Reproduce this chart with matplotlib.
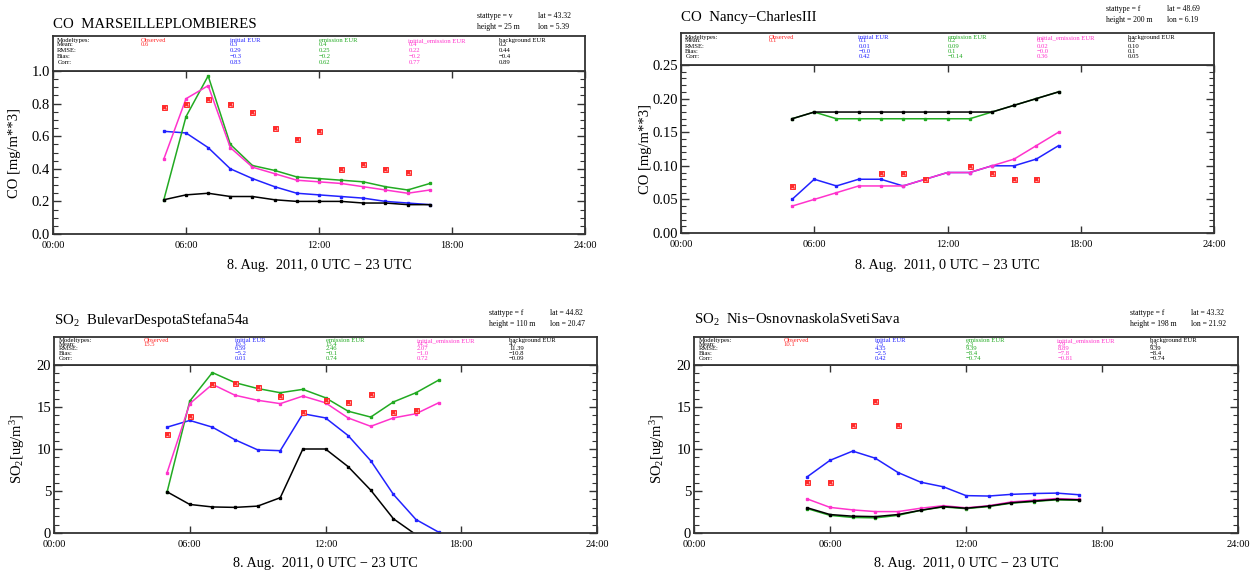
import numpy as np
import matplotlib
matplotlib.use('Agg')
import matplotlib.pyplot as plt
from matplotlib.ticker import MultipleLocator, FixedLocator

W, H = 1257, 571

hours = [5, 6, 7, 8, 9, 10, 11, 12, 13, 14, 15, 16, 17]
xtick_pos = [0, 6, 12, 18, 24]
xtick_labels = ["00:00", "06:00", "12:00", "18:00", "24:00"]
model_names = ["Observed", "initial EUR", "emission EUR", "initial_emission EUR", "background EUR"]
row_names = ["Modeltypes:", "Mean:", "RMSE:", "Bias:", "Corr:"]
nan = np.nan

# ---- panel 1: CO MARSEILLEPLOMBIERES
p1_obs = [0.78, 0.80, 0.83, 0.80, 0.75, 0.65, 0.58, 0.63, 0.40, 0.43, 0.40, 0.38, nan]
p1_init = [0.63, 0.62, 0.53, 0.40, 0.34, 0.29, 0.25, 0.24, 0.23, 0.22, 0.20, 0.19, 0.18]
p1_emis = [0.21, 0.72, 0.97, 0.55, 0.42, 0.39, 0.35, 0.34, 0.33, 0.32, 0.29, 0.27, 0.31]
p1_inem = [0.46, 0.83, 0.91, 0.53, 0.41, 0.37, 0.33, 0.32, 0.31, 0.29, 0.27, 0.25, 0.27]
p1_bg = [0.21, 0.24, 0.25, 0.23, 0.23, 0.21, 0.20, 0.20, 0.20, 0.19, 0.19, 0.18, 0.18]
p1_stats = [["0.6", "", "", ""], ["0.3", "0.29", "−0.3", "0.83"], ["0.4", "0.25", "−0.2", "0.62"],
            ["0.4", "0.22", "−0.2", "0.77"], ["0.2", "0.44", "−0.4", "0.89"]]

# ---- panel 2: CO Nancy-CharlesIII
p2_obs = [0.07, nan, nan, nan, 0.09, 0.09, 0.08, nan, 0.10, 0.09, 0.08, 0.08, nan]
p2_init = [0.05, 0.08, 0.07, 0.08, 0.08, 0.07, 0.08, 0.09, 0.09, 0.10, 0.10, 0.11, 0.13]
p2_emis = [0.17, 0.18, 0.17, 0.17, 0.17, 0.17, 0.17, 0.17, 0.17, 0.18, 0.19, 0.20, 0.21]
p2_inem = [0.04, 0.05, 0.06, 0.07, 0.07, 0.07, 0.08, 0.09, 0.09, 0.10, 0.11, 0.13, 0.15]
p2_bg = [0.17, 0.18, 0.18, 0.18, 0.18, 0.18, 0.18, 0.18, 0.18, 0.18, 0.19, 0.20, 0.21]
p2_stats = [["0.1", "", "", ""], ["0.1", "0.01", "−0.0", "0.42"], ["0.2", "0.09", "0.1", "−0.14"],
            ["0.1", "0.02", "−0.0", "0.36"], ["0.2", "0.10", "0.1", "0.05"]]

# ---- panel 3: SO2 BulevarDespotaStefana54a
p3_obs = [11.8, 13.9, 17.7, 17.9, 17.4, 16.3, 14.4, 15.8, 15.6, 16.5, 14.4, 14.6, nan]
p3_init = [12.6, 13.4, 12.6, 11.1, 9.9, 9.8, 14.2, 13.7, 11.6, 8.6, 4.6, 1.6, 0.1]
p3_emis = [4.9, 15.7, 19.1, 17.9, 17.2, 16.7, 17.1, 16.1, 14.5, 13.8, 15.6, 16.7, 18.2]
p3_inem = [7.2, 15.4, 17.7, 16.4, 15.8, 15.4, 16.3, 15.5, 13.7, 12.7, 13.7, 14.2, 15.5]
p3_bg = [4.9, 3.4, 3.1, 3.05, 3.2, 4.2, 10.0, 10.0, 7.9, 5.1, 1.7, -0.2, -1.0]
p3_stats = [["15.5", "", "", ""], ["10.3", "6.59", "−5.2", "0.01"], ["15.4", "2.46", "−0.1", "0.74"],
            ["14.5", "2.07", "−1.0", "0.72"], ["4.7", "11.39", "−10.8", "−0.09"]]

# ---- panel 4: SO2 Nis-OsnovnaskolaSvetiSava
p4_obs = [6.1, 6.1, 12.8, 15.75, 12.8, nan, nan, nan, nan, nan, nan, nan, nan]
p4_init = [6.7, 8.65, 9.75, 8.9, 7.2, 6.05, 5.5, 4.45, 4.4, 4.6, 4.7, 4.75, 4.55]
p4_emis = [2.9, 2.1, 1.85, 1.8, 2.1, 2.7, 3.1, 2.9, 3.15, 3.55, 3.75, 3.95, 3.9]
p4_inem = [4.05, 3.05, 2.75, 2.55, 2.55, 2.95, 3.25, 3.0, 3.25, 3.7, 3.9, 4.1, 4.0]
p4_bg = [3.0, 2.2, 2.0, 1.95, 2.2, 2.7, 3.15, 2.95, 3.2, 3.6, 3.8, 4.0, 3.95]
p4_stats = [["10.1", "", "", ""], ["7.5", "4.35", "−2.5", "0.42"], ["2.3", "9.39", "−8.4", "−0.74"],
            ["2.9", "8.89", "−7.8", "−0.81"], ["2.3", "9.39", "−8.4", "−0.74"]]

colors = ["#ff2a2a", "#2222ff", "#22aa22", "#ff33cc", "#000000"]

plt.rcParams['font.family'] = ['Liberation Serif', 'DejaVu Serif']
plt.rcParams['mathtext.fontset'] = 'custom'
plt.rcParams['mathtext.rm'] = 'Liberation Serif'
plt.rcParams['mathtext.it'] = 'Liberation Serif:italic'

fig = plt.figure(figsize=(W / 100, H / 100), dpi=100)


def rect(l, t, r, b):
    return [l / W, 1 - b / H, (r - l) / W, (b - t) / H]


def ftext(x, y, s, **kw):
    fig.text(x / W, 1 - y / H, s, **kw)


panels = [
    dict(ax=(53, 71, 585, 234), box=36, title="CO  MARSEILLEPLOMBIERES", ty=24, sy=(16, 27),
         stat=("stattype = v", "height = 25 m", "lat = 43.32", "lon = 5.39"),
         ylim=(0, 1.0), major=0.2, minor=0.05, fmt="%.1f", ylabel="CO [mg/m**3]", ylx=15, xly=266,
         data=(p1_obs, p1_init, p1_emis, p1_inem, p1_bg), stats=p1_stats),
    dict(ax=(681, 65, 1214, 233), box=33, title="CO  Nancy−CharlesIII", ty=18, sy=(9, 20),
         stat=("stattype = f", "height = 200 m", "lat = 48.69", "lon = 6.19"),
         ylim=(0, 0.25), major=0.05, minor=0.01, fmt="%.2f", ylabel="CO [mg/m**3]", ylx=645, xly=266,
         data=(p2_obs, p2_init, p2_emis, p2_inem, p2_bg), stats=p2_stats),
    dict(ax=(54, 365, 597, 533), box=337, title="SO$_2$  BulevarDespotaStefana54a", ty=320, sy=(313, 324),
         stat=("stattype = f", "height = 110 m", "lat = 44.82", "lon = 20.47"),
         ylim=(0, 20), major=5, minor=1, fmt="%d", ylabel="SO$_2$[ug/m$^3$]", ylx=18, xly=563,
         data=(p3_obs, p3_init, p3_emis, p3_inem, p3_bg), stats=p3_stats),
    dict(ax=(694, 365, 1238, 533), box=337, title="SO$_2$  Nis−OsnovnaskolaSvetiSava", ty=320, sy=(313, 324),
         stat=("stattype = f", "height = 198 m", "lat = 43.32", "lon = 21.92"),
         ylim=(0, 20), major=5, minor=1, fmt="%d", ylabel="SO$_2$[ug/m$^3$]", ylx=658, xly=563,
         data=(p4_obs, p4_init, p4_emis, p4_inem, p4_bg), stats=p4_stats),
]

frame_col = "#333333"
col_fracs = [0.165, 0.333, 0.50, 0.668, 0.838]
row_fracs = [0.14, 0.25, 0.42, 0.58, 0.75]

for p in panels:
    l, t, r, b = p["ax"]
    ax = fig.add_axes(rect(l, t, r, b))
    ax.set_xlim(0, 24)
    ax.set_ylim(*p["ylim"])
    ax.xaxis.set_major_locator(FixedLocator(xtick_pos))
    ax.set_xticklabels(xtick_labels, fontsize=7.5)
    ax.yaxis.set_major_locator(MultipleLocator(p["major"]))
    ax.yaxis.set_minor_locator(MultipleLocator(p["minor"]))
    ax.yaxis.set_major_formatter(matplotlib.ticker.FormatStrFormatter(p["fmt"]))
    ax.tick_params(axis='both', which='both', direction='in', top=True, right=True, color=frame_col)
    ax.tick_params(axis='y', which='major', length=6, width=1, labelsize=10.5, pad=2)
    ax.tick_params(axis='y', which='minor', length=3.5, width=0.8)
    ax.tick_params(axis='x', which='major', length=5, width=1, pad=5)
    for s in ax.spines.values():
        s.set_linewidth(1.3)
        s.set_color(frame_col)
    obs, init, emis, inem, bg = p["data"]
    for series, c in zip((init, emis, inem, bg), colors[1:]):
        ax.plot(hours, series, color=c, lw=1.1, marker='s', ms=2.0, mec=c, mfc=c, clip_on=True)
    ax.plot(hours, obs, ls='none', marker='s', ms=3.6, mfc='#ffb0b0', mec=colors[0], mew=0.7)
    ax.plot(hours, obs, ls='none', marker='x', ms=3.2, mec=colors[0], mew=1.0)

    # axis labels
    ftext(p["ylx"], (t + b) / 2, p["ylabel"], rotation=90, ha='center', va='center', fontsize=10.5)
    ftext((l + r) / 2, p["xly"], "8. Aug.  2011, 0 UTC − 23 UTC", ha='center', va='center', fontsize=10.3)

    # title and station info
    ftext(l, p["ty"], p["title"], ha='left', va='center', fontsize=10.7)
    ftext(r - 108, p["sy"][0], p["stat"][0], ha='left', va='center', fontsize=5.5)
    ftext(r - 108, p["sy"][1], p["stat"][1], ha='left', va='center', fontsize=5.5)
    ftext(r - 47, p["sy"][0], p["stat"][2], ha='left', va='center', fontsize=5.5)
    ftext(r - 47, p["sy"][1], p["stat"][3], ha='left', va='center', fontsize=5.5)

    # stats table box
    bx = fig.add_axes(rect(l, p["box"], r, t))
    bx.set_xticks([])
    bx.set_yticks([])
    for s in bx.spines.values():
        s.set_linewidth(1.3)
        s.set_color(frame_col)
    for i, rn in enumerate(row_names):
        bx.text(0.008, 1 - row_fracs[i], rn, transform=bx.transAxes, fontsize=4.8, va='center', ha='left')
    for j, (mn, c) in enumerate(zip(model_names, colors)):
        bx.text(col_fracs[j], 1 - row_fracs[0], mn, transform=bx.transAxes, fontsize=4.8,
                va='center', ha='left', color=c)
        for k, v in enumerate(p["stats"][j]):
            if v:
                bx.text(col_fracs[j], 1 - row_fracs[k + 1], v, transform=bx.transAxes, fontsize=4.8,
                        va='center', ha='left', color=c)

fig.savefig("out.png", dpi=100)
